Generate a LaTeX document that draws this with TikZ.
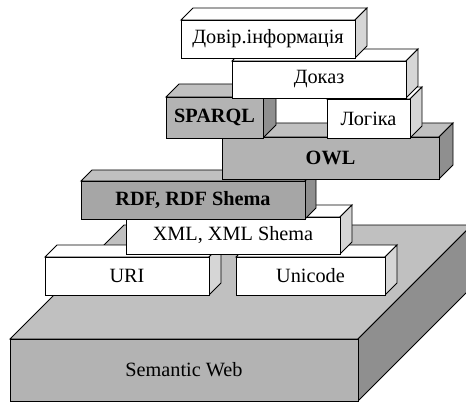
\documentclass[tikz,border=0pt]{standalone}
\usepackage{fontspec}
\setmainfont{Liberation Serif}

\definecolor{slabface}{HTML}{B3B3B3}
\definecolor{slabdark}{HTML}{A6A6A6}
\definecolor{slabtop}{HTML}{C0C0C0}
\definecolor{slabside}{HTML}{8F8F8F}
\definecolor{paperside}{HTML}{D6D6D6}

% one layer: kind, left, top, right, bottom, depth, name, text
\newcommand{\slab}[8]{%
  \draw[#1top] (#2,#3) -- ++(#6,-#6) -- (#4+#6,#3-#6) -- (#4,#3) -- cycle;
  \draw[#1side] (#4,#3) -- ++(#6,-#6) -- (#4+#6,#5-#6) -- (#4,#5) -- cycle;
  \draw[#1front] (#2,#3) rectangle (#4,#5);
  \node[#1text] (#7) at ({(#2+#4)/2},{(#3+#5)/2}) {#8};
}

\begin{document}
\begin{tikzpicture}[x=0.75pt,y=-0.75pt,line width=0.7pt,
    wtop/.style={draw=black,fill=white},
    wside/.style={draw=black,fill=paperside},
    wfront/.style={draw=black,fill=white},
    wtext/.style={inner sep=0pt,font=\fontsize{15.2}{17}\selectfont},
    gtop/.style={draw=black,fill=slabtop},
    gside/.style={draw=black,fill=slabside},
    gfront/.style={draw=black,fill=slabface},
    gtext/.style={inner sep=0pt,font=\fontsize{15.2}{17}\selectfont\bfseries},
    dtop/.style={gtop},
    dside/.style={gside},
    dfront/.style={draw=black,fill=slabdark},
    dtext/.style={gtext},
    btop/.style={gtop},
    bside/.style={gside},
    bfront/.style={gfront},
    btext/.style={wtext}]
  \clip (0,0) rectangle (466,402);
  %Base
  \slab{b}{10}{339}{358}{401}{114}{semweb}{Semantic Web}
  %Lower layers
  \slab{w}{45}{257}{209}{295}{12}{uri}{URI}
  \slab{w}{236}{257}{385}{295}{12}{unicode}{Unicode}
  \slab{w}{126}{217}{340}{254}{12}{xml}{XML, XML Shema}
  \slab{d}{81}{181}{305}{219}{11}{rdf}{RDF, RDF Shema}
  %Upper layers
  \slab{g}{222}{137}{439}{179}{14}{owl}{OWL}
  \slab{g}{166}{97}{263}{138}{13}{sparql}{SPARQL}
  \slab{w}{327}{99}{410}{138}{12}{logic}{Логіка}
  \slab{w}{232}{61}{406}{98}{12}{proof}{Доказ}
  \slab{w}{181}{20}{355}{58}{12}{trust}{Довір.інформація}
\end{tikzpicture}
\end{document}
